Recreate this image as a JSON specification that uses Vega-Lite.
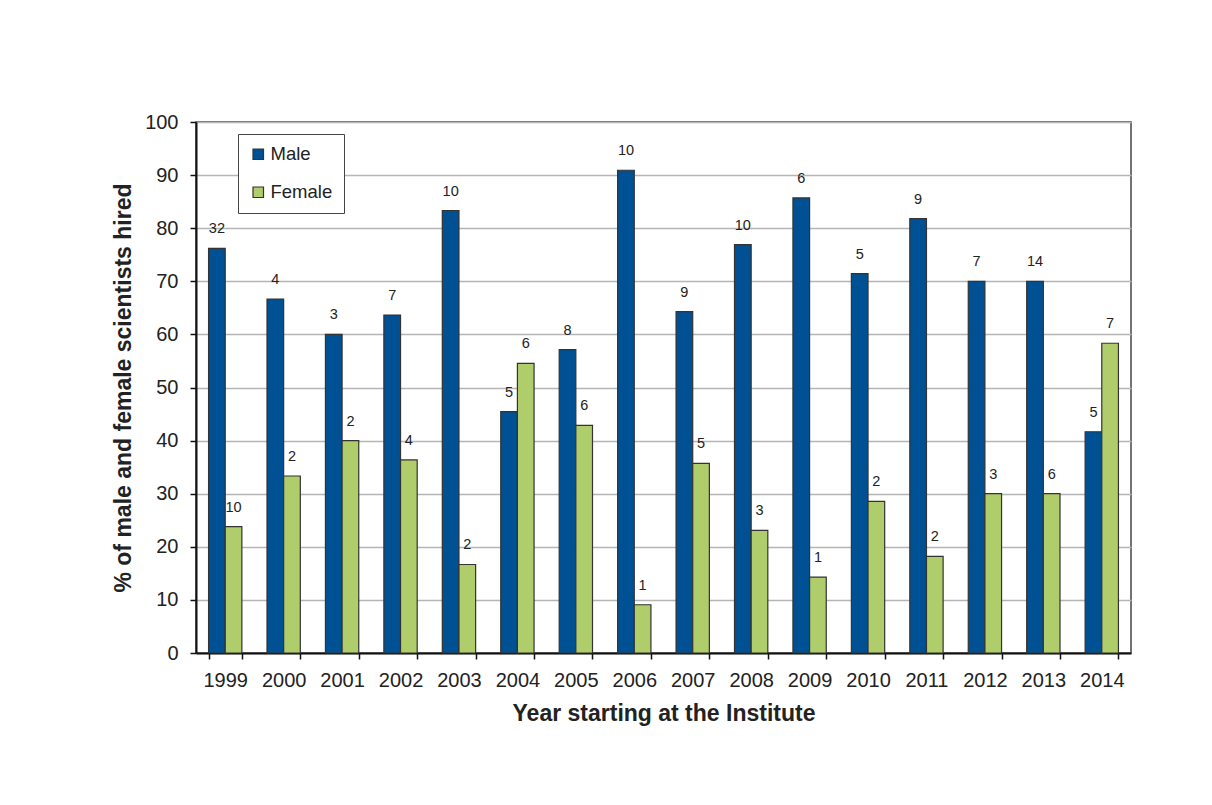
{
  "$schema": "https://vega.github.io/schema/vega-lite/v6.json",
  "width": 935,
  "height": 531,
  "autosize": {"type": "none"},
  "padding": {"left": 196, "top": 122, "right": 81, "bottom": 152},
  "background": "white",
  "config": {
    "font": "Liberation Sans",
    "view": {"stroke": "#444444", "strokeWidth": 1.5}
  },
  "data": {
    "values": [
      {"year": "1999", "sex": "Male", "pct": 76.19, "n": 32},
      {"year": "1999", "sex": "Female", "pct": 23.81, "n": 10},
      {"year": "2000", "sex": "Male", "pct": 66.67, "n": 4},
      {"year": "2000", "sex": "Female", "pct": 33.33, "n": 2},
      {"year": "2001", "sex": "Male", "pct": 60.0, "n": 3},
      {"year": "2001", "sex": "Female", "pct": 40.0, "n": 2},
      {"year": "2002", "sex": "Male", "pct": 63.64, "n": 7},
      {"year": "2002", "sex": "Female", "pct": 36.36, "n": 4},
      {"year": "2003", "sex": "Male", "pct": 83.33, "n": 10},
      {"year": "2003", "sex": "Female", "pct": 16.67, "n": 2},
      {"year": "2004", "sex": "Male", "pct": 45.45, "n": 5},
      {"year": "2004", "sex": "Female", "pct": 54.55, "n": 6},
      {"year": "2005", "sex": "Male", "pct": 57.14, "n": 8},
      {"year": "2005", "sex": "Female", "pct": 42.86, "n": 6},
      {"year": "2006", "sex": "Male", "pct": 90.91, "n": 10},
      {"year": "2006", "sex": "Female", "pct": 9.09, "n": 1},
      {"year": "2007", "sex": "Male", "pct": 64.29, "n": 9},
      {"year": "2007", "sex": "Female", "pct": 35.71, "n": 5},
      {"year": "2008", "sex": "Male", "pct": 76.92, "n": 10},
      {"year": "2008", "sex": "Female", "pct": 23.08, "n": 3},
      {"year": "2009", "sex": "Male", "pct": 85.71, "n": 6},
      {"year": "2009", "sex": "Female", "pct": 14.29, "n": 1},
      {"year": "2010", "sex": "Male", "pct": 71.43, "n": 5},
      {"year": "2010", "sex": "Female", "pct": 28.57, "n": 2},
      {"year": "2011", "sex": "Male", "pct": 81.82, "n": 9},
      {"year": "2011", "sex": "Female", "pct": 18.18, "n": 2},
      {"year": "2012", "sex": "Male", "pct": 70.0, "n": 7},
      {"year": "2012", "sex": "Female", "pct": 30.0, "n": 3},
      {"year": "2013", "sex": "Male", "pct": 70.0, "n": 14},
      {"year": "2013", "sex": "Female", "pct": 30.0, "n": 6},
      {"year": "2014", "sex": "Male", "pct": 41.67, "n": 5},
      {"year": "2014", "sex": "Female", "pct": 58.33, "n": 7}
    ]
  },
  "encoding": {
    "x": {
      "field": "year",
      "type": "nominal",
      "scale": {"paddingInner": 0.43, "paddingOuter": 0.215},
      "axis": {
        "title": "Year starting at the Institute",
        "titleFontSize": 23,
        "titleFontWeight": "bold",
        "titleColor": "#222222",
        "titlePadding": 12,
        "labelAngle": 0,
        "labelFontSize": 20,
        "labelColor": "#222222",
        "labelPadding": 11,
        "tickBand": "extent",
        "tickSize": 6,
        "tickColor": "#111111",
        "tickWidth": 1.5,
        "domainColor": "#111111",
        "domainWidth": 2,
        "grid": false
      }
    },
    "xOffset": {
      "field": "sex",
      "type": "nominal",
      "sort": ["Male", "Female"],
      "scale": {"paddingInner": 0, "paddingOuter": 0}
    },
    "y": {
      "field": "pct",
      "type": "quantitative",
      "scale": {"domain": [0, 100], "nice": false},
      "axis": {
        "title": "% of male and female scientists hired",
        "titleFontSize": 23,
        "titleFontWeight": "bold",
        "titleColor": "#222222",
        "titlePadding": 9,
        "values": [0, 10, 20, 30, 40, 50, 60, 70, 80, 90, 100],
        "labelFontSize": 20,
        "labelColor": "#222222",
        "labelPadding": 12,
        "tickSize": 6,
        "tickColor": "#111111",
        "tickWidth": 1.5,
        "domainColor": "#111111",
        "domainWidth": 2,
        "grid": true,
        "gridColor": "#b5b5b5",
        "gridWidth": 1.5
      }
    }
  },
  "layer": [
    {
      "mark": {"type": "bar", "stroke": "#333333", "strokeWidth": 1.2},
      "encoding": {
        "color": {
          "field": "sex",
          "type": "nominal",
          "sort": ["Male", "Female"],
          "scale": {"domain": ["Male", "Female"], "range": ["#005193", "#b0cd6b"]},
          "legend": {
            "title": null,
            "orient": "none",
            "legendX": 42,
            "legendY": 12,
            "direction": "vertical",
            "symbolType": "square",
            "symbolSize": 110,
            "symbolStrokeColor": "#333333",
            "symbolStrokeWidth": 1.2,
            "labelFontSize": 18.5,
            "labelColor": "#222222",
            "labelOffset": 3,
            "rowPadding": 19,
            "padding": 11,
            "strokeColor": "#444444",
            "fillColor": "white"
          }
        }
      }
    },
    {
      "mark": {"type": "text", "fontSize": 14.5, "dy": -15, "baseline": "alphabetic", "color": "#222222"},
      "encoding": {
        "text": {"field": "n", "type": "quantitative"}
      }
    }
  ]
}
